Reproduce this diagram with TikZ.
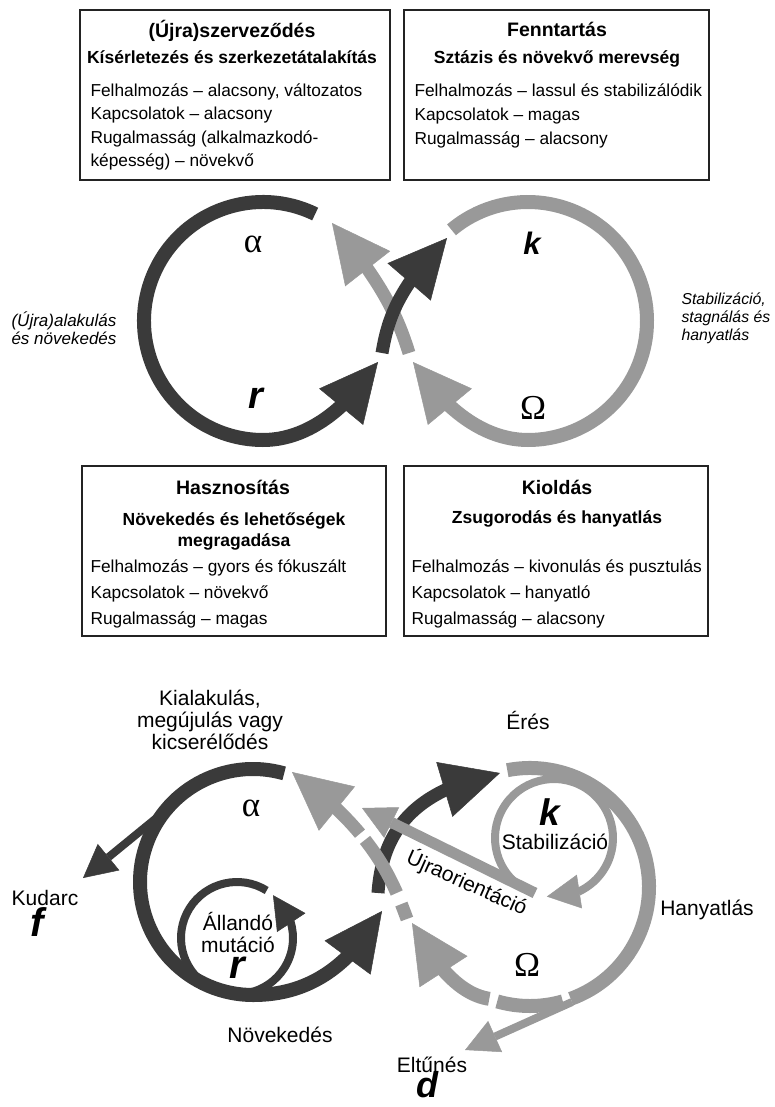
\documentclass[tikz,border=0pt]{standalone}
\usepackage{fontspec}
\setmainfont{Liberation Sans}
\newfontfamily\greekfont{Liberation Serif}
\usetikzlibrary{arrows.meta,bending}
\definecolor{darkarc}{RGB}{58,58,58}
\definecolor{lightarc}{RGB}{153,153,153}
\definecolor{framecol}{RGB}{35,35,35}
\tikzset{
    darkband/.style={draw=darkarc, line width=14pt},
    greyband/.style={draw=lightarc, line width=14pt},
    darkthin/.style={draw=darkarc, line width=8pt},
    greythin/.style={draw=lightarc, line width=8pt},
    bigtip/.style={-{Triangle[length=58pt,width=57pt,line width=0.5pt]}},
    smalltip/.style={-{Triangle[length=33pt,width=34pt,line width=0.5pt]}},
    boxframe/.style={draw=framecol, line width=1.6pt, inner sep=0pt},
    boxtitle/.style={font=\bfseries\fontsize{19.5}{22}\selectfont, anchor=base},
    boxsub/.style={font=\bfseries\fontsize{17.5}{21}\selectfont, anchor=base},
    boxline/.style={font=\fontsize{17.3}{21}\selectfont, anchor=base west},
    sidelabel/.style={font=\itshape\fontsize{#1}{18}\selectfont},
    sidelabel/.default=17,
    cyclelabel/.style={font=\fontsize{21}{22}\selectfont, align=center},
    greekbig/.style={font=\greekfont\fontsize{35}{35}\selectfont},
    phase/.style={font=\bfseries\itshape\fontsize{#1}{#1}\selectfont},
    phase/.default=31
}

\begin{document}
\begin{tikzpicture}[x=1pt, y=-1pt]
    \useasboundingbox (0,0) rectangle (774,1107);

    % Phase boxes, top row
    \node[boxframe, minimum width=310pt, minimum height=170pt] (reorg) at (235,95) {};
    \node[boxtitle] (reorg-title) at (232,38) {(Újra)szerveződés};
    \node[boxsub] (reorg-sub) at (232,64) {Kísérletezés és szerkezetátalakítás};
    \foreach \txt [count=\i] in {{Felhalmozás – alacsony, változatos}, {Kapcsolatok – alacsony},
        {Rugalmasság (alkalmazkodó-}, {képesség) – növekvő}}
        \node[boxline] (reorg-\i) at (87,73+23.5*\i) {\txt};

    \node[boxframe, minimum width=305pt, minimum height=170pt] (keep) at (556.5,95) {};
    \node[boxtitle] (keep-title) at (557,37) {Fenntartás};
    \node[boxsub] (keep-sub) at (557,64) {Sztázis és növekvő merevség};
    \foreach \txt [count=\i] in {{Felhalmozás – lassul és stabilizálódik}, {Kapcsolatok – magas},
        {Rugalmasság – alacsony}}
        \node[boxline] (keep-\i) at (411,73+24*\i) {\txt};

    % Phase boxes, bottom row
    \node[boxframe, minimum width=304pt, minimum height=170pt] (use) at (234,551) {};
    \node[boxtitle] (use-title) at (233,494) {Hasznosítás};
    \node[boxsub, align=center] (use-sub) at (234,546) {Növekedés és lehetőségek\\megragadása};
    \foreach \txt [count=\i] in {{Felhalmozás – gyors és fókuszált}, {Kapcsolatok – növekvő},
        {Rugalmasság – magas}}
        \node[boxline] (use-\i) at (87,546+26*\i) {\txt};

    \node[boxframe, minimum width=304pt, minimum height=170pt] (release) at (556,551) {};
    \node[boxtitle] (release-title) at (557,494) {Kioldás};
    \node[boxsub] (release-sub) at (557,523) {Zsugorodás és hanyatlás};
    \foreach \txt [count=\i] in {{Felhalmozás – kivonulás és pusztulás}, {Kapcsolatok – hanyatló},
        {Rugalmasság – alacsony}}
        \node[boxline] (release-\i) at (408,546+26*\i) {\txt};

    % Adaptive cycle, simple form
    \coordinate (lc) at (263,321);
    \coordinate (rc) at (528,321);
    \draw[darkband, bigtip] (lc) ++(-64:119) arc[start angle=-64, end angle=-270, radius=119]
        .. controls +(42,0) and (345,412) .. (378,362);
    \draw[greyband, bigtip] (rc) ++(230:119) arc[start angle=230, end angle=450, radius=119]
        .. controls +(-42,0) and (446,412) .. (413,362);
    \draw[greyband, line width=13pt, bigtip] (409,353) .. controls (398,318) and (384,285) .. (332,223);
    \draw[darkband, line width=13pt, bigtip] (382,353) .. controls (388,318) and (398,288) .. (447,238);

    \node[greekbig] (alpha1) at (253,244) {α};
    \node[phase=38] (r1) at (256,398) {r};
    \node[phase] (k1) at (532,243) {k};
    \node[greekbig] (omega1) at (533,408) {Ω};
    \node[sidelabel, align=right] (regrow) at (64,328) {(Újra)alakulás\\és növekedés};
    \node[sidelabel=15.8, align=left, anchor=west] (stagnate) at (678,318) {Stabilizáció,\\stagnálás és\\hanyatlás};

    % Adaptive cycle, detailed form
    \coordinate (bc) at (253,882);
    \coordinate (sc) at (237,938);
    \coordinate (kc) at (530,887);
    \coordinate (sk) at (554,838);

    \draw[darkband, bigtip] (bc) ++(-74:113) arc[start angle=-74, end angle=-270, radius=113]
        .. controls +(47,0) and (345,975) .. (382,911);
    \draw[darkthin, smalltip] (165,811) -- (83,878);
    \draw[darkthin, smalltip] (sc) ++(-58:56) arc[start angle=-58, end angle=-410, radius=56];
    \draw[darkband, line width=13pt, bigtip] (378,893) .. controls (382,835) and (410,790) .. (500,773);
    \draw[greyband, line width=13pt, bigtip, dash pattern=on 16pt off 12pt on 62pt off 8pt on 300pt]
        (407,919) .. controls (392,878) and (372,830) .. (292,772);

    \draw[greyband] (kc) ++(259:119) arc[start angle=259, end angle=430, radius=119];
    \draw[greyband] (kc) ++(74:119) arc[start angle=74, end angle=106, radius=119];
    \draw[greyband, bigtip] (kc) ++(110:119) .. controls (465,995) and (440,975) .. (412,923);
    \draw[greythin, smalltip] (572,1002) -- (465,1050);
    \draw[greythin, smalltip] (sk) ++(120:59) arc[start angle=120, end angle=457, radius=59];
    \draw[greyband, line width=11pt, smalltip] (535,893) -- (362,808);

    \node[cyclelabel] (emerge) at (210,720) {Kialakulás,\\megújulás vagy\\kicserélődés};
    \node[cyclelabel] (mature) at (528,720) {Érés};
    \node[greekbig] (alpha2) at (251,808) {α};
    \node[phase=37] (k2) at (550,812) {k};
    \node[cyclelabel] (stabil) at (555,842) {Stabilizáció};
    \node[cyclelabel] (mutate) at (238,932) {Állandó\\mutáció};
    \node[phase=40] (r2) at (237,968) {r};
    \node[cyclelabel] (fail) at (45,898) {Kudarc};
    \node[phase=40] (f) at (37,922) {f};
    \node[cyclelabel] (growth) at (280,1035) {Növekedés};
    \node[cyclelabel] (decline) at (707,910) {Hanyatlás};
    \node[greekbig] (omega2) at (527,965) {Ω};
    \node[cyclelabel] (vanish) at (432,1065) {Eltűnés};
    \node[phase=36] (d) at (427,1085) {d};
    \node[cyclelabel, rotate=-24, inner sep=1pt] (reorient) at (467,883) {Újraorientáció};
\end{tikzpicture}
\end{document}
